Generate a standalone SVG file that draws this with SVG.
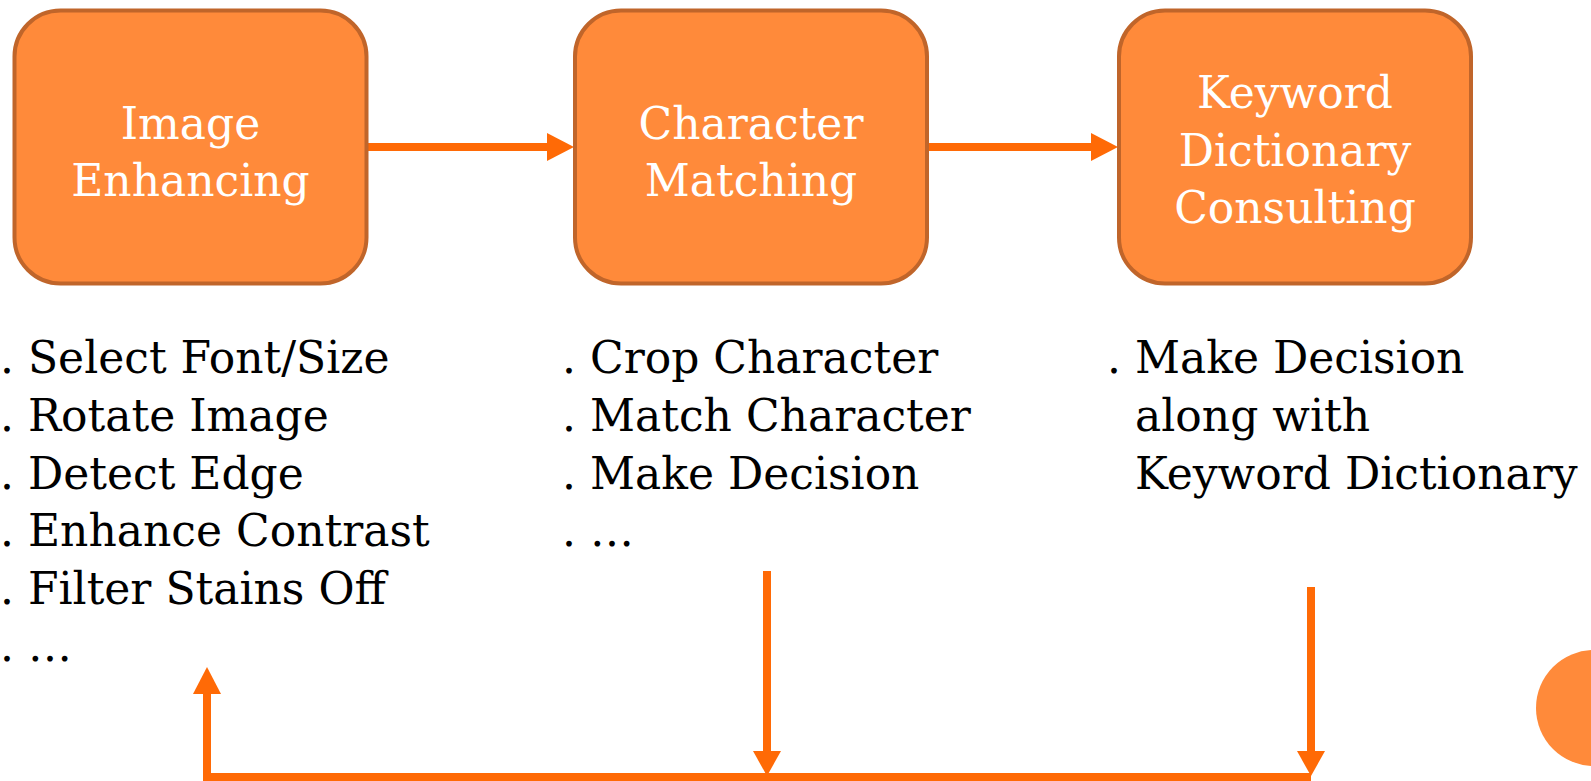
<svg xmlns="http://www.w3.org/2000/svg" width="1591" height="781" viewBox="0 0 1591 781">
<style>
.box{fill:#FF8A3A;stroke:#C0652A;stroke-width:4}
.lbl{font-family:"DejaVu Serif","Liberation Serif",serif;font-size:44px;fill:#FFFFFF;text-anchor:middle}
.body{font-family:"DejaVu Serif","Liberation Serif",serif;font-size:44px;fill:#000000}
.con{fill:none;stroke:#FF6A06;stroke-width:8}
.head{fill:#FF6A06}
</style>
<rect width="1591" height="781" fill="#FFFFFF"/>
<g id="connectors">
  <line class="con" x1="367" y1="147" x2="548" y2="147"/>
  <polygon class="head" points="547,133 574,147 547,161"/>
  <line class="con" x1="929" y1="147" x2="1092" y2="147"/>
  <polygon class="head" points="1091,133 1118,147 1091,161"/>
  <line class="con" x1="767" y1="571" x2="767" y2="752"/>
  <polygon class="head" points="753,751 781,751 767,776"/>
  <line class="con" x1="1311" y1="587" x2="1311" y2="752"/>
  <polygon class="head" points="1297,751 1325,751 1311,776"/>
  <polyline class="con" points="1311,777 207,777 207,692"/>
  <polygon class="head" points="193,694 221,694 207,667"/>
</g>
<g id="node-image-enhancing">
  <rect class="box" x="14.5" y="10.5" width="352" height="273" rx="46" ry="46"/>
  <text class="lbl" x="190.5" y="139">Image</text>
  <text class="lbl" x="190.5" y="196">Enhancing</text>
</g>
<g id="node-character-matching">
  <rect class="box" x="575" y="10.5" width="352" height="273" rx="46" ry="46"/>
  <text class="lbl" x="751" y="139">Character</text>
  <text class="lbl" x="751" y="196">Matching</text>
</g>
<g id="node-keyword-dictionary">
  <rect class="box" x="1119" y="10.5" width="352" height="273" rx="46" ry="46"/>
  <text class="lbl" x="1295" y="108">Keyword</text>
  <text class="lbl" x="1295" y="166">Dictionary</text>
  <text class="lbl" x="1295" y="223">Consulting</text>
</g>
<g id="list-image-enhancing">
  <text class="body" x="0" y="373">. Select Font/Size</text>
  <text class="body" x="0" y="431">. Rotate Image</text>
  <text class="body" x="0" y="489">. Detect Edge</text>
  <text class="body" x="0" y="546">. Enhance Contrast</text>
  <text class="body" x="0" y="604">. Filter Stains Off</text>
  <text class="body" x="0" y="661">. …</text>
</g>
<g id="list-character-matching">
  <text class="body" x="562" y="373">. Crop Character</text>
  <text class="body" x="562" y="431">. Match Character</text>
  <text class="body" x="562" y="489">. Make Decision</text>
  <text class="body" x="562" y="546">. …</text>
</g>
<g id="list-keyword-dictionary">
  <text class="body" x="1107" y="373">. Make Decision</text>
  <text class="body" x="1135" y="431">along with</text>
  <text class="body" x="1135" y="489">Keyword Dictionary</text>
</g>
<circle id="corner-dot" cx="1594" cy="708" r="58" fill="#FF8A3A"/>
</svg>
